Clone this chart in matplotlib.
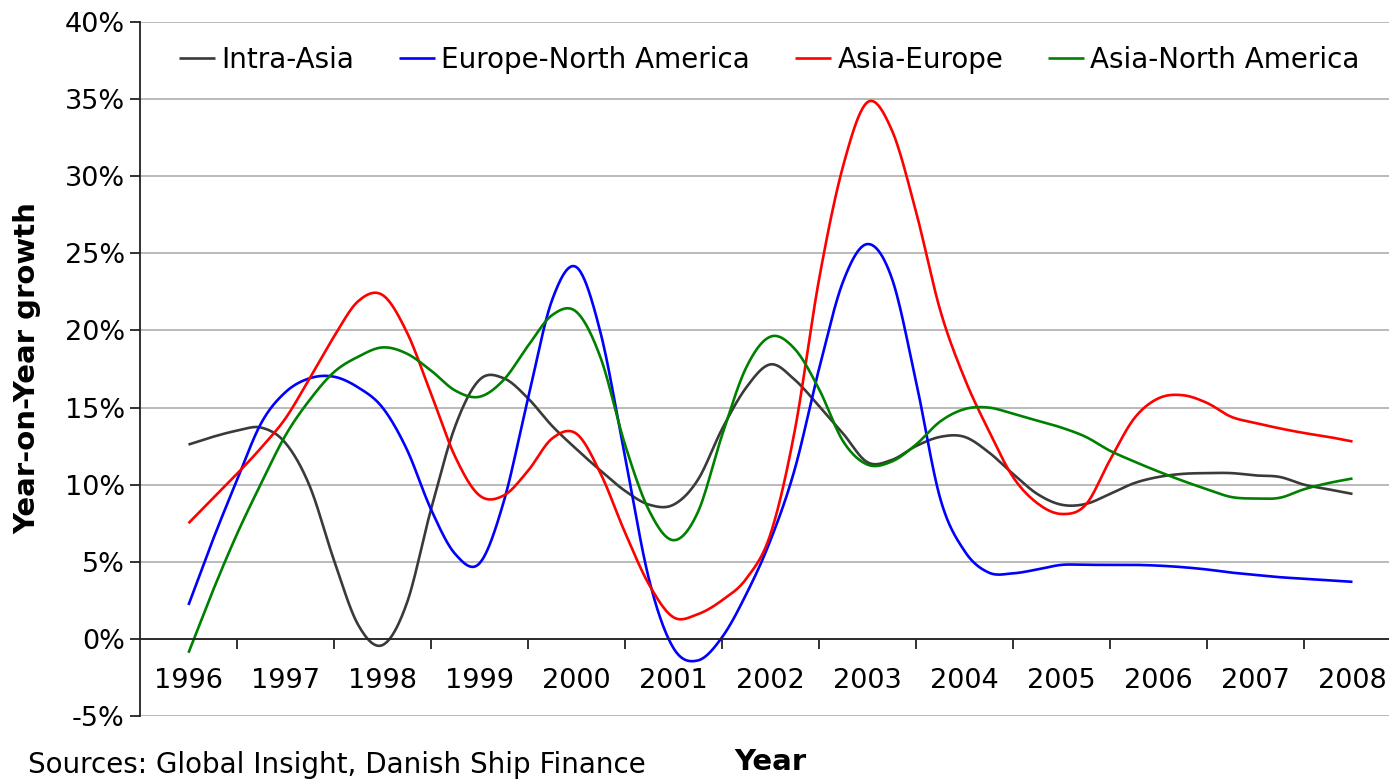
import numpy as np
import matplotlib
matplotlib.use("Agg")
import matplotlib.pyplot as plt
from matplotlib.ticker import FixedLocator, FuncFormatter

# ------------------ Data (quarterly readings, % growth) ------------------
quarters = np.arange(1996.0, 2008.01, 0.25)
years = list(range(1996, 2009))

intra_asia = [12.6, 13.1, 13.5, 13.7, 12.7, 9.9, 5.1, 0.9, -0.4, 2.3, 8.4, 13.8,
              16.8, 16.9, 15.6, 13.8, 12.3, 10.9, 9.6, 8.7, 8.7, 10.3, 13.6, 16.3,
              17.8, 16.8, 15.1, 13.3, 11.45, 11.6, 12.5, 13.1, 13.1, 12.1, 10.7, 9.4,
              8.7, 8.75, 9.4, 10.1, 10.5, 10.7, 10.75, 10.75, 10.6, 10.5, 10.0, 9.7, 9.4]

europe_na = [2.2, 6.4, 10.3, 14.0, 16.0, 16.9, 17.0, 16.3, 15.0, 12.3, 8.4, 5.5,
             4.9, 8.9, 15.6, 22.0, 24.1, 19.8, 11.8, 3.8, -0.6, -1.4, 0.1, 2.9,
             6.4, 11.0, 17.5, 23.2, 25.6, 23.4, 16.7, 9.1, 5.7, 4.3, 4.25, 4.5,
             4.8, 4.8, 4.8, 4.8, 4.75, 4.65, 4.5, 4.3, 4.15, 4.0, 3.9, 3.8, 3.7]

asia_europe = [7.5, 9.1, 10.7, 12.4, 14.3, 16.9, 19.6, 21.9, 22.3, 19.9, 15.9, 11.8,
               9.3, 9.3, 10.9, 13.0, 13.3, 10.7, 6.9, 3.5, 1.4, 1.6, 2.5, 3.9,
               6.8, 13.5, 23.3, 30.7, 34.8, 33.0, 27.7, 21.3, 16.9, 13.5, 10.5, 8.8,
               8.1, 8.7, 11.6, 14.3, 15.6, 15.8, 15.3, 14.4, 14.0, 13.65, 13.35, 13.1, 12.8]

asia_na = [-0.9, 3.1, 6.8, 10.1, 13.2, 15.5, 17.3, 18.3, 18.9, 18.5, 17.4, 16.1,
           15.7, 16.8, 19.0, 21.0, 21.2, 18.2, 12.6, 8.3, 6.4, 8.2, 13.2, 17.6,
           19.6, 18.8, 16.2, 12.8, 11.3, 11.5, 12.6, 14.1, 14.9, 15.0, 14.6, 14.15,
           13.7, 13.1, 12.2, 11.5, 10.85, 10.25, 9.7, 9.2, 9.1, 9.15, 9.7, 10.1, 10.4]

series = [
    ("Intra-Asia", intra_asia, "#3a3a3a"),
    ("Europe-North America", europe_na, "#0000ff"),
    ("Asia-Europe", asia_europe, "#ff0000"),
    ("Asia-North America", asia_na, "#008000"),
]


def smooth(x, y, n=24):
    # Catmull-Rom curve through the points, like Excel's smoothed line
    x = np.asarray(x, float)
    y = np.asarray(y, float)
    px = np.concatenate([[x[0]], x, [x[-1]]])
    py = np.concatenate([[y[0]], y, [y[-1]]])
    t = np.linspace(0, 1, n, endpoint=False)
    out_x, out_y = [], []
    for i in range(1, len(px) - 2):
        for p, out in ((px, out_x), (py, out_y)):
            p0, p1, p2, p3 = p[i - 1], p[i], p[i + 1], p[i + 2]
            out.append(0.5 * (2 * p1 + (-p0 + p2) * t
                              + (2 * p0 - 5 * p1 + 4 * p2 - p3) * t ** 2
                              + (-p0 + 3 * p1 - 3 * p2 + p3) * t ** 3))
    out_x.append([x[-1]])
    out_y.append([y[-1]])
    return np.concatenate(out_x), np.concatenate(out_y)


# ------------------ Figure ------------------
W, H = 1389, 781
fig = plt.figure(figsize=(W / 100, H / 100), dpi=100)
ax = fig.add_axes([140 / W, 1 - 716 / H, (1401 - 140) / W, (716 - 22) / H])

for name, vals, col in series:
    sx, sy = smooth(quarters, vals)
    ax.plot(sx, sy, color=col, lw=1.9, label=name, solid_capstyle="butt")

ax.set_xlim(1995.5, 2008.5)
ax.set_ylim(-5, 40)

ax.yaxis.set_major_locator(FixedLocator(np.arange(-5, 41, 5)))
ax.yaxis.set_major_formatter(FuncFormatter(lambda v, p: f"{v:.0f}%"))
ax.grid(axis="y", color="#b4b4b4", lw=1.3)
ax.set_axisbelow(True)

ax.xaxis.set_major_locator(FixedLocator(np.arange(1996.5, 2008.5, 1)))
ax.xaxis.set_major_formatter(FuncFormatter(lambda v, p: ""))
ax.xaxis.set_minor_locator(FixedLocator(years))
ax.xaxis.set_minor_formatter(FuncFormatter(lambda v, p: f"{v:.0f}"))

ax.spines["bottom"].set_position(("data", 0))
ax.spines["top"].set_visible(False)
ax.spines["right"].set_visible(False)
for s in ("left", "bottom"):
    ax.spines[s].set_color("#222222")
    ax.spines[s].set_linewidth(1.3)

ax.tick_params(axis="x", which="major", direction="out", length=7, width=1.3, color="#222222")
ax.tick_params(axis="x", which="minor", length=0, pad=21, labelsize=19.5)
ax.tick_params(axis="y", direction="out", length=7, width=1.3, color="#222222",
               pad=4, labelsize=19.5)

leg = ax.legend(loc="upper left", bbox_to_anchor=(179 / W, 1 - 46 / H),
                bbox_transform=fig.transFigure, ncol=4, frameon=False,
                fontsize=20, handlelength=1.3, handletextpad=0.22,
                columnspacing=1.62, borderpad=0, borderaxespad=0)

fig.text(27 / W, 1 - 368 / H, "Year-on-Year growth", rotation=90, ha="center",
         va="center", fontsize=21, fontweight="bold")
fig.text(770 / W, 1 - 762 / H, "Year", ha="center", va="center",
         fontsize=21, fontweight="bold")
fig.text(28 / W, 1 - 765 / H, "Sources: Global Insight, Danish Ship Finance",
         ha="left", va="center", fontsize=20)

fig.savefig("out.png", dpi=100)
